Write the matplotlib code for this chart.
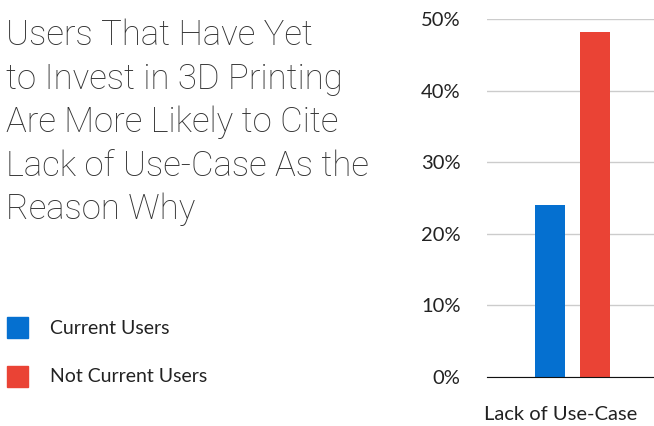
import matplotlib.pyplot as plt
from matplotlib.patches import Rectangle

# data
categories = ["Lack of Use-Case"]
series_names = ["Current Users", "Not Current Users"]
current_users = [24.0]
not_current_users = [48.2]
colors = ["#0570d0", "#ea4335"]
y_ticks = [0, 10, 20, 30, 40, 50]
y_tick_labels = ["0%", "10%", "20%", "30%", "40%", "50%"]

title_lines = ["Users That Have Yet", "to Invest in 3D Printing",
               "Are More Likely to Cite", "Lack of Use-Case As the",
               "Reason Why"]

plt.rcParams["font.family"] = ["Lato", "DejaVu Sans"]

W, H = 654, 426
fig = plt.figure(figsize=(W / 100, H / 100), dpi=100)

# bar axes (pixel box: left 487, right 654, 0% at y=377, 50% at y=19)
ax = fig.add_axes([487 / W, 1 - 377 / H, (654 - 487) / W, (377 - 19) / H])
w = 0.18
ax.bar([0.012 - 0.135], current_users, width=w, color=colors[0], zorder=3)
ax.bar([0.012 + 0.135], not_current_users, width=w, color=colors[1], zorder=3)
ax.set_xlim(-0.5, 0.5)
ax.set_ylim(0, 50)
ax.set_yticks(y_ticks)
ax.set_yticklabels(y_tick_labels, fontsize=14.5, color="#222222")
ax.set_xticks([-0.06])
ax.set_xticklabels(categories, fontsize=14.5, color="#222222")
ax.tick_params(axis="both", length=0)
ax.tick_params(axis="y", pad=19)
ax.tick_params(axis="x", pad=21)
ax.grid(axis="y", color="#cccccc", linewidth=1, zorder=0)
for s in ["top", "right", "left"]:
    ax.spines[s].set_visible(False)
ax.spines["bottom"].set_color("#111111")
ax.spines["bottom"].set_zorder(4)

# title
for i, line in enumerate(title_lines):
    fig.text(6 / W, 1 - (45 + i * 43.5) / H, line, fontsize=25,
             family=["Roboto", "DejaVu Sans"], color="#333333",
             fontweight="light", va="baseline")

# legend
legend_y = [328, 377]
for name, c, yy in zip(series_names, colors, legend_y):
    fig.patches.append(Rectangle((7 / W, 1 - (yy + 10) / H), 21 / W, 21 / H,
                                 transform=fig.transFigure, color=c))
    fig.text(50 / W, 1 - yy / H, name, fontsize=14, color="#222222",
             va="center")

fig.savefig("out.png", dpi=100)
